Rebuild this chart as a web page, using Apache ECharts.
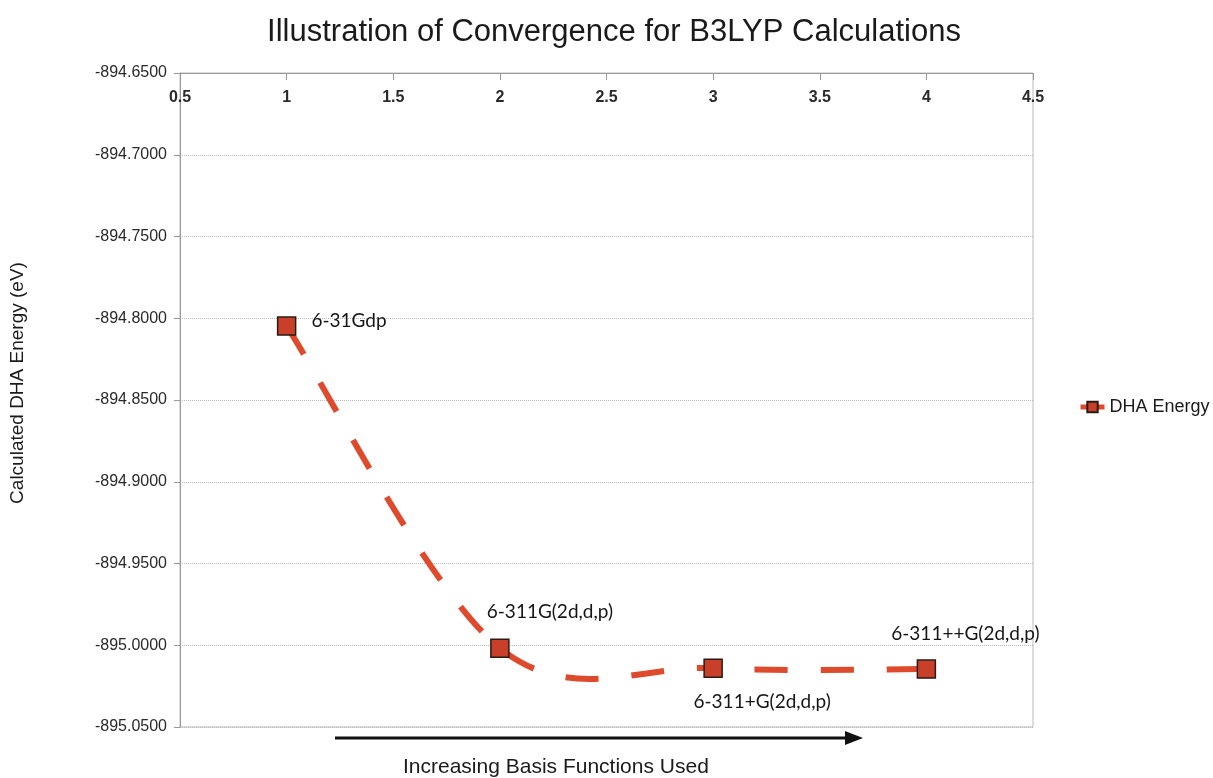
<!DOCTYPE html>
<html>
<head>
<meta charset="utf-8">
<script src="https://cdn.jsdelivr.net/npm/echarts@6/dist/echarts.min.js"></script>
<style>
  html, body { margin: 0; padding: 0; background: #ffffff; }
  #chart { width: 1213px; height: 778px; }
</style>
</head>
<body>
<div id="chart"></div>
<script>
// Basis sets, in order of increasing size
const basisSets = ['6-31Gdp', '6-311G(2d,d,p)', '6-311+G(2d,d,p)', '6-311++G(2d,d,p)'];
const basisIndex = [1, 2, 3, 4];
// Calculated DHA energy (eV) for each basis set
const dhaEnergy = [-894.8048, -895.0018, -895.0140, -895.0146];
// Axis settings
const xTicks = [0.5, 4.5, 0.5];      // min, max, interval
const yTicks = [-895.05, -894.65, 0.05];

const labelPlacement = [
  { position: 'right', offset: [10, -5] },
  { position: 'top', offset: [50, -12] },
  { position: 'bottom', offset: [49, 9] },
  { position: 'top', offset: [39, -11] }
];

const RED = '#de4a2c';
const DASH = [33, 33];

const chart = echarts.init(document.getElementById('chart'));

const points = basisIndex.map((x, i) => [x, dhaEnergy[i]]);

const markerData = points.map((p, i) => ({
  value: p,
  name: basisSets[i],
  label: {
    show: true,
    position: labelPlacement[i].position,
    offset: labelPlacement[i].offset,
    formatter: basisSets[i],
    fontFamily: 'Lato',
    fontSize: 19,
    color: '#151515'
  }
}));

// Cubic Bezier control points for the smoothed segment from point i to i+1
// (Catmull-Rom style tangents, end points use their single neighbour).
function segmentControls(px, i) {
  const n = px.length;
  const p0 = px[Math.max(i - 1, 0)];
  const p1 = px[i];
  const p2 = px[i + 1];
  const p3 = px[Math.min(i + 2, n - 1)];
  const k = 1 / 6;
  return {
    x1: p1[0], y1: p1[1],
    cpx1: p1[0] + (p2[0] - p0[0]) * k, cpy1: p1[1] + (p2[1] - p0[1]) * k,
    cpx2: p2[0] - (p3[0] - p1[0]) * k, cpy2: p2[1] - (p3[1] - p1[1]) * k,
    x2: p2[0], y2: p2[1]
  };
}

function approxLength(s) {
  const chord = Math.hypot(s.x2 - s.x1, s.y2 - s.y1);
  const poly = Math.hypot(s.cpx1 - s.x1, s.cpy1 - s.y1) +
               Math.hypot(s.cpx2 - s.cpx1, s.cpy2 - s.cpy1) +
               Math.hypot(s.x2 - s.cpx2, s.y2 - s.cpy2);
  return (chord + poly) / 2;
}

function renderSmoothSegment(params, api) {
  const i = params.dataIndex;
  if (i >= points.length - 1) return null;
  const px = points.map(p => api.coord(p));
  let offset = 0;
  for (let j = 0; j < i; j++) offset += approxLength(segmentControls(px, j));
  return {
    type: 'bezierCurve',
    shape: segmentControls(px, i),
    style: {
      stroke: RED,
      fill: null,
      lineWidth: 6,
      lineDash: DASH,
      lineDashOffset: offset,
      lineCap: 'butt'
    },
    silent: true
  };
}

chart.setOption({
  animation: false,
  backgroundColor: '#ffffff',
  title: {
    text: 'Illustration of Convergence for B3LYP Calculations',
    left: 609,
    textAlign: 'center',
    top: 12,
    textStyle: {
      fontFamily: 'Liberation Sans',
      fontWeight: 'normal',
      fontSize: 31,
      color: '#1a1a1a'
    }
  },
  legend: {
    left: 1073,
    top: 393,
    orient: 'vertical',
    itemWidth: 24,
    itemHeight: 13,
    itemGap: 4,
    textStyle: { fontFamily: 'Liberation Sans', fontSize: 18, color: '#1a1a1a' },
    lineStyle: { color: RED, width: 5, opacity: 1, type: 'solid' },
    data: ['DHA Energy']
  },
  grid: {
    left: 180,
    right: 180,
    top: 73,
    bottom: 51,
    show: true,
    borderColor: '#bbbbbb',
    borderWidth: 1
  },
  xAxis: {
    type: 'value',
    position: 'top',
    min: xTicks[0],
    max: xTicks[1],
    interval: xTicks[2],
    axisLine: { show: true, lineStyle: { color: '#999' } },
    axisTick: { show: true, inside: true, length: 7, lineStyle: { color: '#999' } },
    axisLabel: {
      inside: true,
      margin: 17,
      fontFamily: 'Liberation Sans',
      fontWeight: 'bold',
      fontSize: 16,
      color: '#2a2a2a',
      verticalAlign: 'top'
    },
    splitLine: { show: false }
  },
  yAxis: {
    type: 'value',
    min: yTicks[0],
    max: yTicks[1],
    interval: yTicks[2],
    name: 'Calculated DHA Energy (eV)',
    nameLocation: 'middle',
    nameGap: 153,
    nameTextStyle: {
      fontFamily: 'Liberation Sans',
      fontSize: 19,
      color: '#1a1a1a',
      padding: [0, 0, 0, 34]
    },
    axisLine: { show: true, lineStyle: { color: '#999' } },
    axisTick: { show: true, length: 6, lineStyle: { color: '#999' } },
    axisLabel: {
      margin: 13,
      fontFamily: 'Liberation Sans',
      fontSize: 16,
      color: '#2a2a2a',
      formatter: v => v.toFixed(4)
    },
    splitLine: { show: true, lineStyle: { color: '#b8b8b8', type: 'dotted', width: 1 } }
  },
  series: [
    {
      // markers and basis-set labels
      name: 'DHA Energy',
      type: 'line',
      data: markerData,
      symbol: 'rect',
      symbolSize: 18,
      itemStyle: { color: '#c8402a', borderColor: '#2a1a14', borderWidth: 1.5 },
      lineStyle: { color: RED, width: 0, opacity: 0 },
      z: 4
    },
    {
      // smoothed dashed connecting curve
      name: 'DHA Energy curve',
      type: 'custom',
      data: points,
      encode: { x: 0, y: 1 },
      renderItem: renderSmoothSegment,
      z: 2
    }
  ],
  graphic: [
    {
      type: 'line',
      shape: { x1: 335, y1: 738, x2: 848, y2: 738 },
      style: { stroke: '#111', lineWidth: 3 }
    },
    {
      type: 'polygon',
      shape: { points: [[845, 731], [863, 738], [845, 745]] },
      style: { fill: '#111' }
    },
    {
      type: 'text',
      left: 403,
      top: 757,
      style: {
        text: 'Increasing Basis Functions Used',
        fontFamily: 'Liberation Sans',
        fontSize: 21,
        fill: '#1a1a1a'
      }
    }
  ]
});
</script>
</body>
</html>
